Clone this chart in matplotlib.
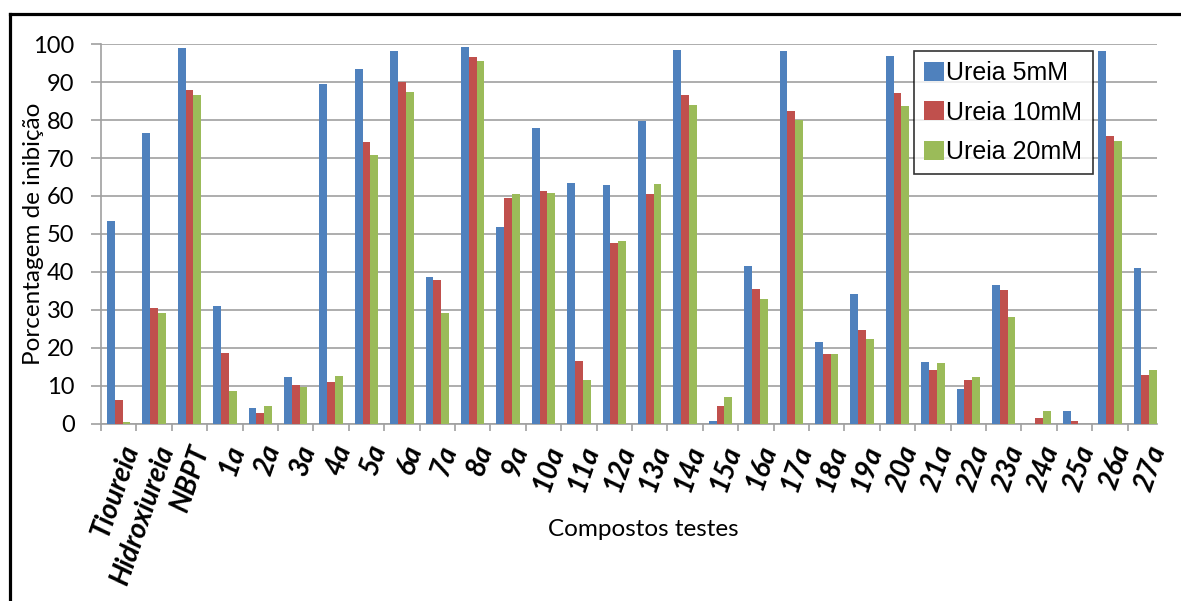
import numpy as np
import matplotlib.pyplot as plt
from matplotlib.lines import Line2D

categories = ["Tioureia", "Hidroxiureia", "NBPT", "1a", "2a", "3a", "4a", "5a", "6a",
              "7a", "8a", "9a", "10a", "11a", "12a", "13a", "14a", "15a", "16a",
              "17a", "18a", "19a", "20a", "21a", "22a", "23a", "24a", "25a", "26a", "27a"]
ureia_5 = [53.4, 76.7, 98.9, 31.1, 4.1, 12.2, 89.5, 93.6, 98.3, 38.6, 99.3, 51.8, 78.0,
           63.5, 62.8, 79.8, 98.6, 0.7, 41.6, 98.2, 21.4, 34.2, 96.9, 16.3, 9.2, 36.5,
           0.0, 3.4, 98.2, 40.9]
ureia_10 = [6.2, 30.4, 87.9, 18.7, 2.7, 10.2, 10.9, 74.3, 90.1, 37.9, 96.6, 59.5, 61.2,
            16.6, 47.6, 60.5, 86.7, 4.5, 35.5, 82.5, 18.3, 24.7, 87.1, 14.0, 11.6, 35.1,
            1.4, 0.7, 75.7, 12.9]
ureia_20 = [0.4, 29.1, 86.5, 8.5, 4.7, 9.6, 12.6, 70.7, 87.5, 29.1, 95.6, 60.5, 60.9,
            11.5, 48.1, 63.2, 84.1, 6.9, 32.8, 80.1, 18.3, 22.3, 83.7, 15.9, 12.2, 28.1,
            3.4, 0.0, 74.6, 14.0]
series = ["Ureia 5mM", "Ureia 10mM", "Ureia 20mM"]
colors = ["#4F81BD", "#C0504D", "#9BBB59"]

W, H = 1181, 601
fig = plt.figure(figsize=(W / 100, H / 100), dpi=100)
ax = fig.add_axes([101 / W, 1 - 423.5 / H, (1157 - 101) / W, (423.5 - 44.3) / H])

x = np.arange(len(categories))
bw = 0.22
for i, (vals, lab, c) in enumerate(zip([ureia_5, ureia_10, ureia_20], series, colors)):
    ax.bar(x + (i - 1) * bw, vals, bw, color=c, label=lab, zorder=3)

ax.set_xlim(-0.5, len(categories) - 1 + 1.5 * bw)
ax.set_ylim(0, 100)
ax.set_yticks(range(0, 101, 10))
ax.yaxis.grid(True, color="#a0a0a0", linewidth=1.2, zorder=0)

grey = "#a0a0a0"
for s in ["top", "right"]:
    ax.spines[s].set_visible(False)
for s in ["left", "bottom"]:
    ax.spines[s].set_color(grey)
    ax.spines[s].set_linewidth(1.2)

ax.tick_params(axis="y", length=7, width=1.2, color=grey, labelsize=17, pad=12)
ax.set_xticks(x)
ax.set_xticks(np.arange(len(categories)) - 0.5, minor=True)
ax.tick_params(axis="x", which="major", length=0, pad=13)
ax.tick_params(axis="x", which="minor", length=5, width=1.2, color=grey)
ax.set_xticklabels(categories, rotation=71, ha="right", rotation_mode="anchor",
                   fontsize=20, fontweight="bold", fontstyle="italic", family="Lato")
for t in ax.get_yticklabels():
    t.set_family("Lato")

ax.set_ylabel("Porcentagem de inibição", fontsize=17.5, family="Lato", labelpad=-8)
fig.text(643 / W, 1 - 530 / H, "Compostos testes", fontsize=17.5, family="Lato",
         ha="center", va="center")

leg = ax.legend(loc="upper left", bbox_to_anchor=((914 - 101) / 1056, 1 - (51 - 44.3) / 379.2),
                prop={"family": "Liberation Sans", "size": 18}, frameon=True, fancybox=False,
                handlelength=0.8, handleheight=0.8, handletextpad=0.1, labelspacing=0.62,
                borderpad=0.4, borderaxespad=0)
leg.get_frame().set_edgecolor("black")
leg.get_frame().set_linewidth(1.2)

# outer frame (top and left edges)
fig.add_artist(Line2D([10 / W, 1], [1 - 14.3 / H, 1 - 14.3 / H], color="black", lw=2.3))
fig.add_artist(Line2D([10 / W, 10 / W], [1 - 14.3 / H, 0], color="black", lw=2.3))

fig.savefig("out.png", dpi=100)
